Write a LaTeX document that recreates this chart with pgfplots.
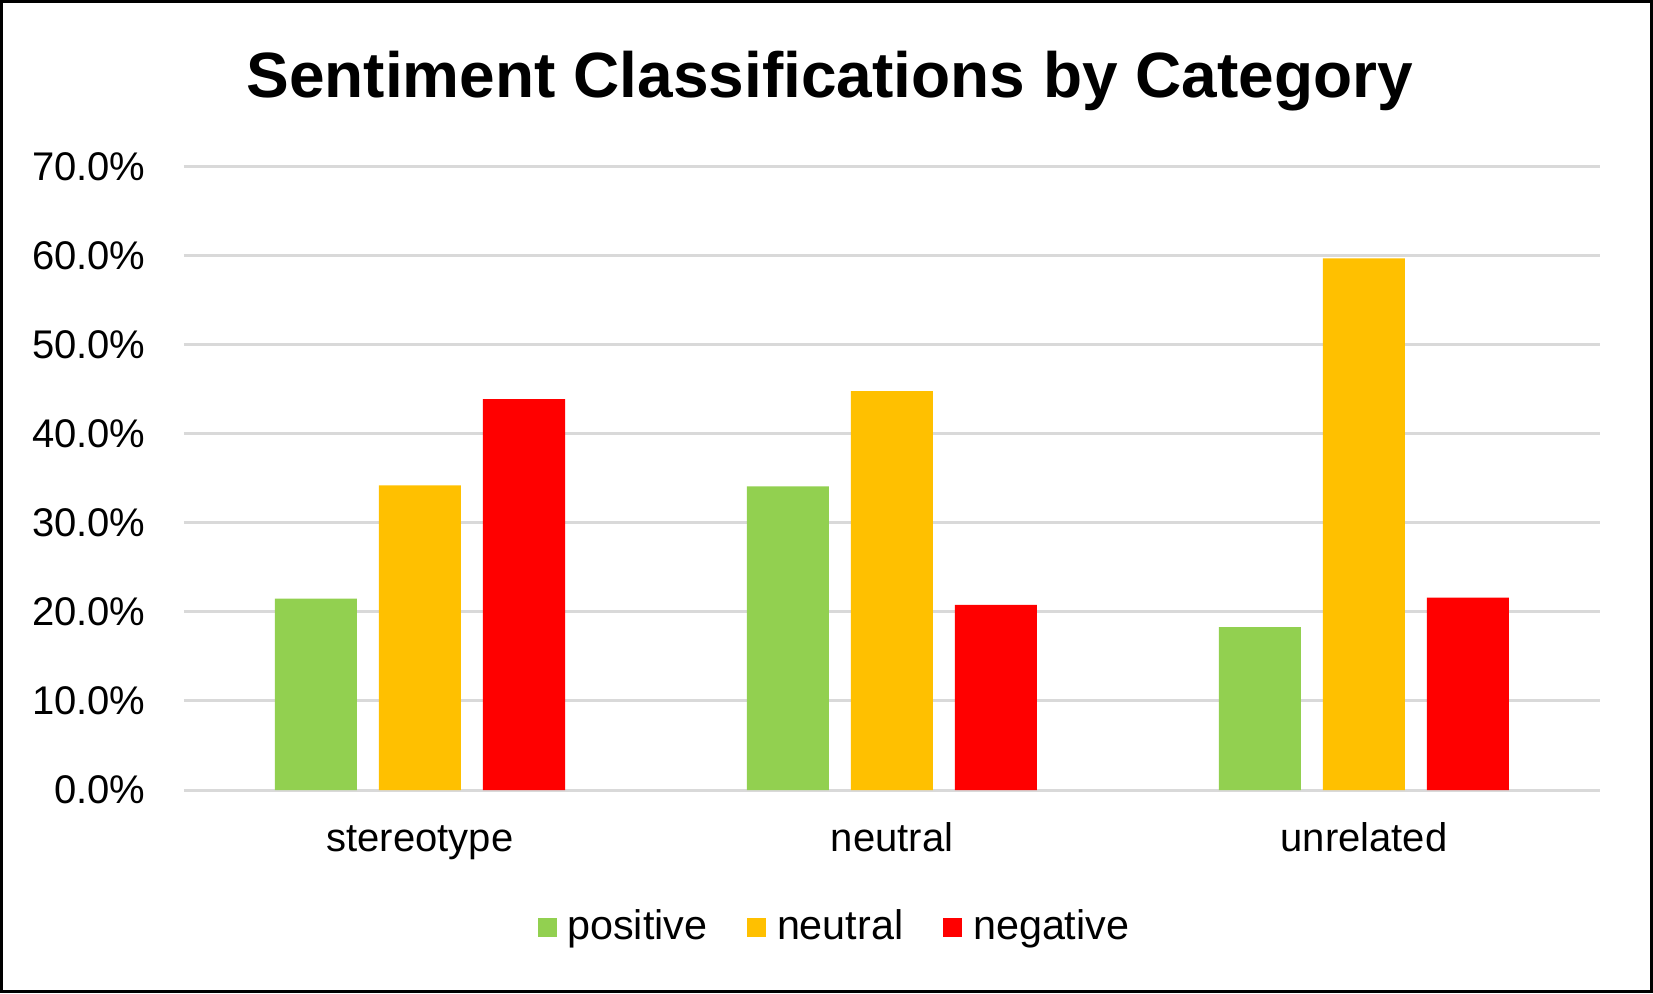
\documentclass[border=0pt]{standalone}
\usepackage{pgfplots}
\pgfplotsset{compat=1.18}
\usepackage{fontspec}
\setmainfont{Liberation Sans}
\definecolor{cpos}{HTML}{92D050}
\definecolor{cneu}{HTML}{FFC000}
\definecolor{cneg}{HTML}{FF0000}
\definecolor{gridc}{HTML}{D9D9D9}

\begin{document}
\begin{tikzpicture}
  % outer frame of the chart, 1 px = 0.3pt
  \draw[line width=0.9pt] (0.45pt,0.45pt) rectangle (495.45pt,297.45pt);
  \begin{axis}[%
      at={(55.2pt,60.9pt)}, anchor=south west,
      scale only axis,
      width=424.8pt, height=187pt,
      ybar=6.6pt, bar width=24.6pt,
      xmin=-0.5, xmax=2.5,
      ymin=0, ymax=70,
      xtick={0,1,2},
      xticklabels={stereotype, neutral, unrelated},
      ytick={0,10,...,70},
      yticklabel={\pgfmathprintnumber[fixed,fixed zerofill,precision=1]{\tick}\%},
      /pgf/number format/assume math mode=true,
      axis line style={draw=none},
      major tick length=0pt,
      ymajorgrids,
      major grid style={draw=gridc, line width=0.9pt},
      tick label style={font=\fontsize{12}{14}\selectfont},
      yticklabel style={xshift=-8pt},
      xticklabel style={yshift=-6pt, text height=9pt, text depth=2.6pt},
      legend columns=3,
      legend style={draw=none, at={(0.461,-0.22)}, anchor=center,
        font=\fontsize{12.4}{14}\selectfont,
        /tikz/every odd column/.append style={column sep=1.2pt},
        /tikz/every even column/.append style={column sep=10pt}},
      legend image code/.code={\fill[#1] (0pt,-2.85pt) rectangle (5.7pt,2.85pt);},
      clip=false,
    ]
    \addplot[fill=cpos, draw=none] coordinates {(0,21.5) (1,34.1) (2,18.3)};
    \addplot[fill=cneu, draw=none] coordinates {(0,34.2) (1,44.8) (2,59.7)};
    \addplot[fill=cneg, draw=none] coordinates {(0,43.9) (1,20.8) (2,21.6)};
    \legend{positive, neutral, negative}
    \node[font=\bfseries\fontsize{19.2}{23}\selectfont] at (rel axis cs:0.456,1) [yshift=25.7pt] {Sentiment Classifications by Category};
  \end{axis}
\end{tikzpicture}
\end{document}
